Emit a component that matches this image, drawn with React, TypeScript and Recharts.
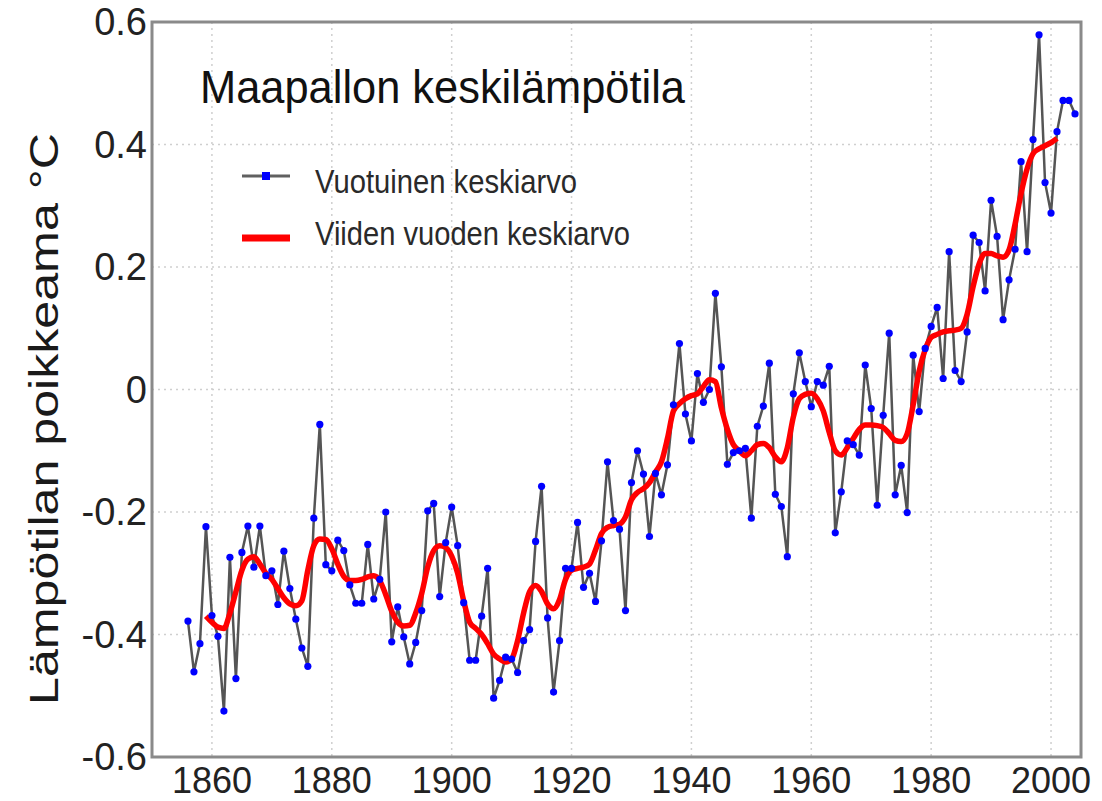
import { LineChart, Line, XAxis, YAxis, CartesianGrid, ReferenceArea } from "recharts";

// vuotuinen keskiarvo, 1856-2004 (°C)
const firstYear = 1856;
const annualMean = [
    -0.378, -0.461, -0.415, -0.224, -0.369, -0.403, -0.525, -0.274, -0.472, -0.266,
    -0.223, -0.29, -0.223, -0.304, -0.296, -0.351, -0.264, -0.325, -0.375, -0.422,
    -0.452, -0.21, -0.057, -0.286, -0.296, -0.246, -0.263, -0.319, -0.349, -0.349,
    -0.253, -0.342, -0.31, -0.2, -0.412, -0.355, -0.404, -0.448, -0.413, -0.361,
    -0.198, -0.186, -0.338, -0.25, -0.192, -0.255, -0.348, -0.442, -0.442, -0.37,
    -0.292, -0.504, -0.475, -0.437, -0.44, -0.462, -0.41, -0.392, -0.248, -0.158,
    -0.373, -0.494, -0.41, -0.292, -0.292, -0.217, -0.323, -0.3, -0.346, -0.247,
    -0.118, -0.214, -0.228, -0.361, -0.152, -0.1, -0.138, -0.24, -0.137, -0.172,
    -0.123, -0.025, 0.075, -0.04, -0.084, 0.026, -0.021, 0.0, 0.157, 0.037,
    -0.122, -0.103, -0.1, -0.096, -0.21, -0.06, -0.027, 0.043, -0.171, -0.191,
    -0.273, -0.007, 0.06, 0.013, -0.028, 0.013, 0.007, 0.038, -0.234, -0.167,
    -0.084, -0.09, -0.107, 0.04, -0.031, -0.189, -0.042, 0.092, -0.172, -0.124,
    -0.201, 0.056, -0.036, 0.067, 0.103, 0.134, 0.018, 0.225, 0.031, 0.013,
    0.094, 0.252, 0.24, 0.161, 0.309, 0.25, 0.114, 0.179, 0.229, 0.372,
    0.225, 0.408, 0.579, 0.338, 0.288, 0.421, 0.472, 0.472, 0.45
];

// viiden vuoden keskiarvo, 1859-2001
const smoothStart = 1859;
const fiveYearMean = [
    -0.37, -0.38, -0.388, -0.39, -0.365, -0.33, -0.295, -0.277, -0.273, -0.285,
    -0.3, -0.31, -0.325, -0.34, -0.35, -0.353, -0.345, -0.295, -0.255, -0.244,
    -0.245, -0.26, -0.285, -0.305, -0.312, -0.312, -0.31, -0.306, -0.304, -0.312,
    -0.335, -0.362, -0.38, -0.386, -0.385, -0.365, -0.333, -0.29, -0.263, -0.255,
    -0.258, -0.272, -0.3, -0.345, -0.38, -0.39, -0.4, -0.415, -0.432, -0.44,
    -0.445, -0.44, -0.41, -0.365, -0.33, -0.32, -0.33, -0.35, -0.358, -0.343,
    -0.31, -0.295, -0.292, -0.29, -0.285, -0.262, -0.235, -0.225, -0.222, -0.22,
    -0.208, -0.18, -0.168, -0.162, -0.152, -0.135, -0.118, -0.08, -0.035, -0.023,
    -0.015, -0.01, -0.007, 0.005, 0.016, 0.013, -0.03, -0.065, -0.09, -0.1,
    -0.108, -0.1, -0.09, -0.088, -0.095, -0.11, -0.118, -0.095, -0.045, -0.015,
    -0.008, -0.006, -0.015, -0.035, -0.07, -0.1, -0.107, -0.095, -0.08, -0.065,
    -0.058, -0.058, -0.059, -0.062, -0.072, -0.083, -0.085, -0.072, -0.025, 0.03,
    0.065, 0.085, 0.09, 0.094, 0.096, 0.097, 0.1, 0.123, 0.168, 0.205,
    0.222, 0.222, 0.218, 0.216, 0.228, 0.27, 0.32, 0.36, 0.385, 0.393,
    0.398, 0.403, 0.41
];

const xTicks = [1860, 1880, 1900, 1920, 1940, 1960, 1980, 2000];
const yTicks = [-0.6, -0.4, -0.2, 0, 0.2, 0.4, 0.6];

const data = annualMean.map((value, i) => {
    const year = firstYear + i;
    const j = year - smoothStart;
    return {
        year,
        annual: value,
        smooth: j >= 0 && j < fiveYearMean.length ? fiveYearMean[j] : null
    };
});

const FONT = '"Liberation Sans", Arial, Helvetica, sans-serif';

const YTitle = () => (
    <text
        transform="translate(58 419) rotate(-90)"
        textAnchor="middle"
        fontFamily={FONT}
        fontSize={41}
        fill="#1a1a1a"
        textLength={572}
        lengthAdjust="spacingAndGlyphs"
    >
        Lämpötilan poikkeama °C
    </text>
);

function Overlay() {
    return (
        <svg
            width={1102}
            height={801}
            style={{ position: "absolute", left: 0, top: 0, pointerEvents: "none" }}
        >
            <text x={200} y={103} fontFamily={FONT} fontSize={46} fill="#111"
                textLength={485} lengthAdjust="spacingAndGlyphs">
                Maapallon keskilämpötila
            </text>

            <line x1={242} y1={176} x2={290} y2={176} stroke="#606060" strokeWidth={3} />
            <rect x={262} y={172} width={8} height={8} fill="#0000ff" />
            <text x={315} y={193} fontFamily={FONT} fontSize={34} fill="#2a2a2a"
                textLength={262} lengthAdjust="spacingAndGlyphs">
                Vuotuinen keskiarvo
            </text>

            <line x1={242} y1={238} x2={290} y2={238} stroke="#ff0000" strokeWidth={7} />
            <text x={315} y={245} fontFamily={FONT} fontSize={34} fill="#2a2a2a"
                textLength={315} lengthAdjust="spacingAndGlyphs">
                Viiden vuoden keskiarvo
            </text>
        </svg>
    );
}

export default function App() {
    return (
        <div style={{ position: "absolute", left: 0, top: 0, width: 1102, height: 801, background: "#fff" }}>
            <LineChart
                width={1102}
                height={801}
                data={data}
                margin={{ top: 22, right: 21, bottom: 0, left: 0 }}
            >
                <CartesianGrid stroke="#cfcfcf" strokeDasharray="2 4" strokeWidth={1.5} />

                <XAxis
                    dataKey="year"
                    type="number"
                    domain={[1850, 2005]}
                    ticks={xTicks}
                    allowDataOverflow
                    height={44}
                    axisLine={false}
                    tickLine={false}
                    tickSize={0}
                    tickMargin={10}
                    tick={{ fontSize: 36, fill: "#222", fontFamily: FONT }}
                />
                <YAxis
                    type="number"
                    domain={[-0.6, 0.6]}
                    ticks={yTicks}
                    width={152}
                    axisLine={false}
                    tickLine={false}
                    tickSize={0}
                    tickMargin={5}
                    tick={{ fontSize: 38, fill: "#222", fontFamily: FONT }}
                    tickFormatter={(v: number) => (v === 0 ? "0" : v.toFixed(1))}
                    label={<YTitle />}
                />

                <ReferenceArea
                    x1={1850}
                    x2={2005}
                    y1={-0.6}
                    y2={0.6}
                    fill="none"
                    stroke="#8a8a8a"
                    strokeWidth={3}
                />

                <Line
                    dataKey="annual"
                    type="linear"
                    stroke="#555"
                    strokeWidth={2.5}
                    dot={{ r: 3.6, fill: "#0000ff", stroke: "none" }}
                    isAnimationActive={false}
                />
                <Line
                    dataKey="smooth"
                    type="monotone"
                    stroke="#ff0000"
                    strokeWidth={5.5}
                    dot={false}
                    isAnimationActive={false}
                />
            </LineChart>
            <Overlay />
        </div>
    );
}
